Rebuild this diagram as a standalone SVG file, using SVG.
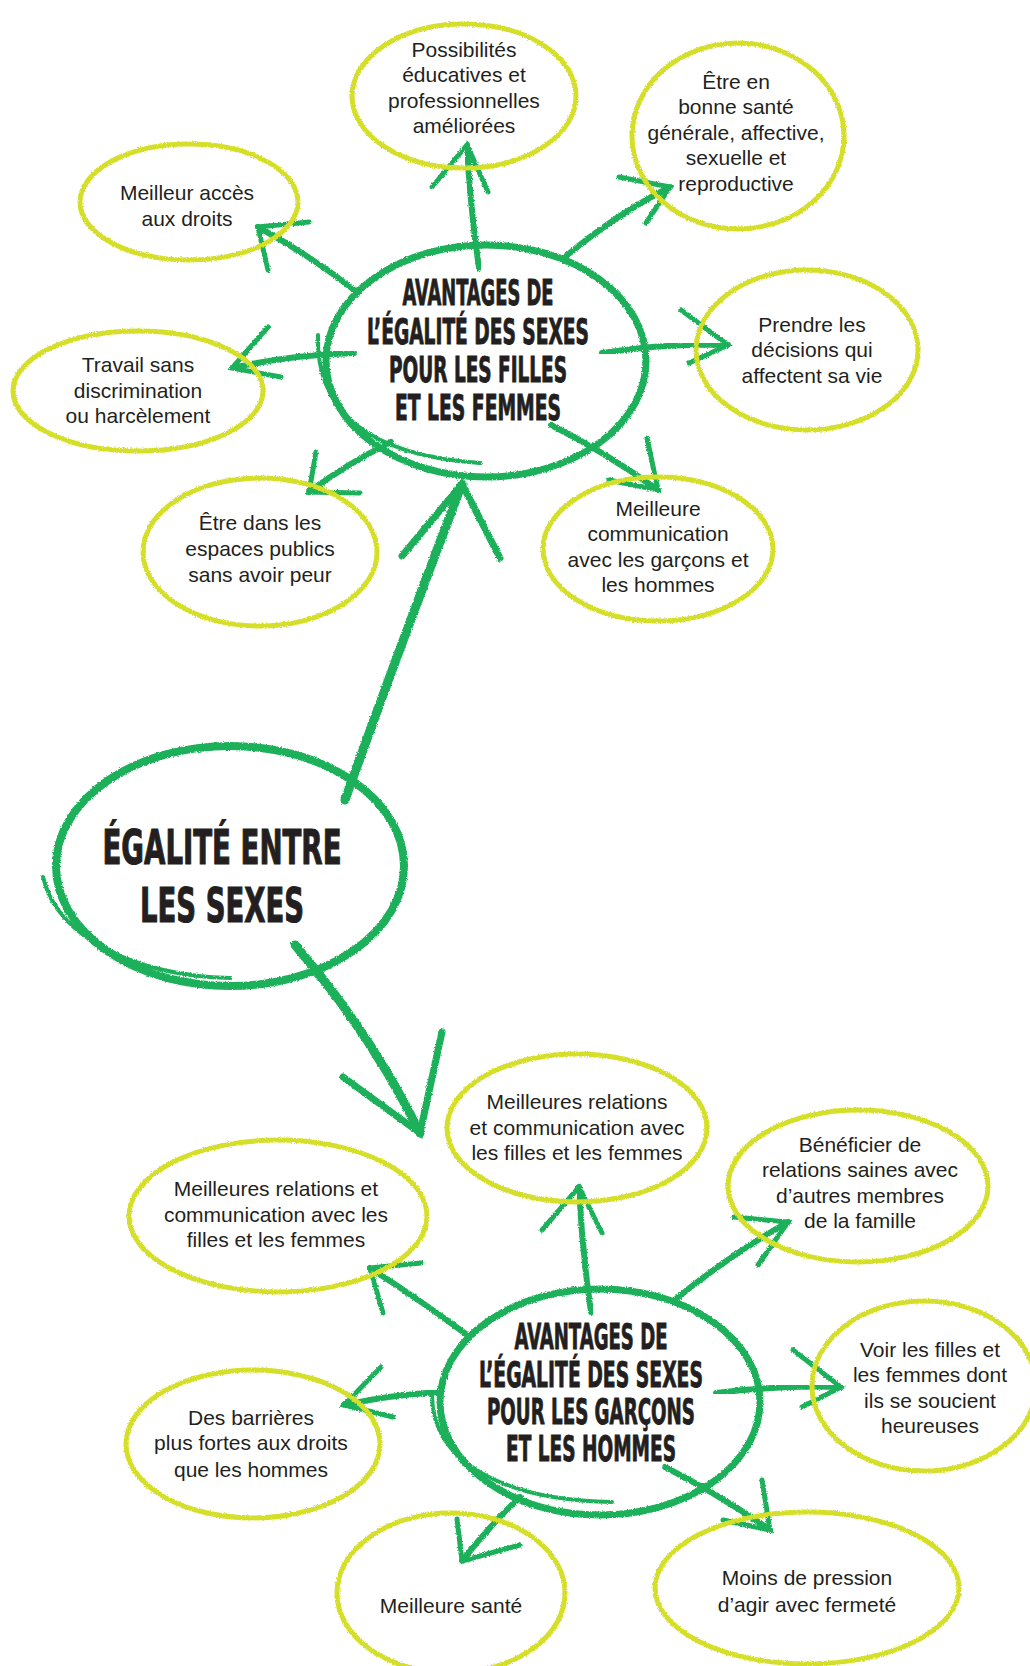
<svg xmlns="http://www.w3.org/2000/svg" width="1030" height="1666" viewBox="0 0 1030 1666">
<defs>
<filter id="rough" x="-10%" y="-10%" width="120%" height="120%">
<feTurbulence type="fractalNoise" baseFrequency="0.8" numOctaves="2" seed="3" result="n"/>
<feDisplacementMap in="SourceGraphic" in2="n" scale="3" xChannelSelector="R" yChannelSelector="G"/>
</filter>
<style>
.bg{fill:#ffffff}
.yel{fill:none;stroke:#d5df2b;stroke-width:5;filter:url(#rough)}
.hub{fill:none;stroke:#1eb05a;stroke-width:7;filter:url(#rough)}
.main{fill:none;stroke:#1eb05a;stroke-width:8;filter:url(#rough)}
.hub2{fill:none;stroke:#1eb05a;stroke-width:4;stroke-linecap:round;filter:url(#rough)}
.shaft{fill:none;stroke:#1eb05a;stroke-width:6;stroke-linecap:round;filter:url(#rough)}
.head{fill:none;stroke:#1eb05a;stroke-width:5;stroke-linecap:round;stroke-linejoin:miter;filter:url(#rough)}
.bshaft{fill:none;stroke:#1eb05a;stroke-width:9;stroke-linecap:round;filter:url(#rough)}
.bhead{fill:none;stroke:#1eb05a;stroke-width:7;stroke-linecap:round;stroke-linejoin:miter;filter:url(#rough)}
.t{font-family:"Liberation Sans",Arial,sans-serif;font-size:21px;fill:#231f20;text-anchor:middle}
.h{font-family:"Liberation Sans Narrow","DejaVu Sans Condensed","Liberation Sans",sans-serif;font-weight:bold;font-size:35px;fill:#231f20;stroke:#231f20;stroke-width:0.9;text-anchor:middle}
.hb{font-family:"Liberation Sans Narrow","DejaVu Sans Condensed","Liberation Sans",sans-serif;font-weight:bold;font-size:48px;fill:#231f20;stroke:#231f20;stroke-width:1.1;text-anchor:middle}
</style>
</defs>
<rect class="bg" x="0" y="0" width="1030" height="1666"/>

<g id="connectors">
<!-- top hub -->
<g id="c-up"><path class="shaft" d="M479,268 Q470,205 467,145"/><path class="head" d="M432,187 L467,145 L488,192"/></g>
<g id="c-upright"><path class="shaft" d="M565,257 Q615,215 670,187"/><path class="head" d="M619,177 L670,187 L646,223"/></g>
<g id="c-upleft"><path class="shaft" d="M358,293 Q310,255 258,227"/><path class="head" d="M309,222 L258,227 L268,270"/></g>
<g id="c-left"><path class="shaft" d="M354,353 Q290,355 232,368"/><path class="head" d="M268,327 L232,368 L281,377"/></g>
<g id="c-right"><path class="shaft" d="M602,353 Q665,343 728,345"/><path class="head" d="M681,310 L728,345 L689,363"/></g>
<g id="c-downleft"><path class="shaft" d="M391,442 Q345,465 309,492"/><path class="head" d="M316,452 L309,492 L360,493"/></g>
<g id="c-downright"><path class="shaft" d="M551,425 Q605,452 658,490"/><path class="head" d="M647,438 L658,490 L609,480"/></g>
<!-- main -->
<g id="c-main-up"><path class="bshaft" d="M345,800 Q395,660 462,484"/><path class="bhead" d="M402,556 L462,484 L500,558"/></g>
<g id="c-main-down"><path class="bshaft" d="M295,945 Q372,1035 420,1133"/><path class="bhead" d="M343,1077 L420,1133 L442,1032"/></g>
<!-- bottom hub -->
<g id="d-up"><path class="shaft" d="M591,1312 Q582,1250 579,1187"/><path class="head" d="M542,1230 L579,1187 L602,1233"/></g>
<g id="d-upright"><path class="shaft" d="M677,1298 Q730,1255 788,1222"/><path class="head" d="M734,1217 L788,1222 L758,1265"/></g>
<g id="d-upleft"><path class="shaft" d="M470,1337 Q420,1300 370,1268"/><path class="head" d="M421,1263 L370,1268 L383,1313"/></g>
<g id="d-left"><path class="shaft" d="M439,1392 Q390,1395 344,1405"/><path class="head" d="M381,1367 L344,1405 L393,1417"/></g>
<g id="d-right"><path class="shaft" d="M716,1393 Q780,1385 841,1387"/><path class="head" d="M793,1350 L841,1387 L802,1407"/></g>
<g id="d-downleft"><path class="shaft" d="M520,1497 Q490,1525 462,1561"/><path class="head" d="M457,1519 L462,1561 L520,1545"/></g>
<g id="d-downright"><path class="shaft" d="M665,1467 Q720,1495 770,1530"/><path class="head" d="M762,1480 L770,1530 L723,1520"/></g>
</g>

<!-- Top hub -->
<g id="hub-filles">
<ellipse class="hub" cx="486" cy="361" rx="160" ry="116"/>
<path class="hub2" d="M318,335 C316,405 360,455 480,463"/>
<text class="h" x="478" y="305" textLength="151" lengthAdjust="spacingAndGlyphs">AVANTAGES DE</text>
<text class="h" x="478" y="344" textLength="222" lengthAdjust="spacingAndGlyphs">L’ÉGALITÉ DES SEXES</text>
<text class="h" x="478" y="382" textLength="178" lengthAdjust="spacingAndGlyphs">POUR LES FILLES</text>
<text class="h" x="478" y="420" textLength="166" lengthAdjust="spacingAndGlyphs">ET LES FEMMES</text>
</g>

<g id="n-possibilites">
<ellipse class="yel" cx="464" cy="96" rx="112" ry="72"/>
<text class="t" x="464" y="57">Possibilités</text>
<text class="t" x="464" y="82">éducatives et</text>
<text class="t" x="464" y="108">professionnelles</text>
<text class="t" x="464" y="133">améliorées</text>
</g>

<g id="n-sante">
<ellipse class="yel" cx="738" cy="136" rx="106" ry="93"/>
<text class="t" x="736" y="89">Être en</text>
<text class="t" x="736" y="114">bonne santé</text>
<text class="t" x="736" y="140">générale, affective,</text>
<text class="t" x="736" y="165">sexuelle et</text>
<text class="t" x="736" y="191">reproductive</text>
</g>

<g id="n-acces">
<ellipse class="yel" cx="189" cy="202" rx="109" ry="58"/>
<text class="t" x="187" y="200">Meilleur accès</text>
<text class="t" x="187" y="226">aux droits</text>
</g>

<g id="n-travail">
<ellipse class="yel" cx="138" cy="391" rx="125" ry="60"/>
<text class="t" x="138" y="372">Travail sans</text>
<text class="t" x="138" y="398">discrimination</text>
<text class="t" x="138" y="423">ou harcèlement</text>
</g>

<g id="n-decisions">
<ellipse class="yel" cx="807" cy="350" rx="111" ry="80"/>
<text class="t" x="812" y="332">Prendre les</text>
<text class="t" x="812" y="357">décisions qui</text>
<text class="t" x="812" y="383">affectent sa vie</text>
</g>

<g id="n-espaces">
<ellipse class="yel" cx="260" cy="552" rx="117" ry="74"/>
<text class="t" x="260" y="530">Être dans les</text>
<text class="t" x="260" y="556">espaces publics</text>
<text class="t" x="260" y="582">sans avoir peur</text>
</g>

<g id="n-communication">
<ellipse class="yel" cx="658" cy="549" rx="115" ry="72"/>
<text class="t" x="658" y="516">Meilleure</text>
<text class="t" x="658" y="541">communication</text>
<text class="t" x="658" y="567">avec les garçons et</text>
<text class="t" x="658" y="592">les hommes</text>
</g>

<!-- Main -->
<g id="main">
<ellipse class="main" cx="230" cy="866" rx="174" ry="120"/>
<path class="hub2" d="M43,877 C58,940 140,976 230,978"/>
<text class="hb" x="222" y="864" textLength="239" lengthAdjust="spacingAndGlyphs">ÉGALITÉ ENTRE</text>
<text class="hb" x="222" y="922" textLength="164" lengthAdjust="spacingAndGlyphs">LES SEXES</text>
</g>

<!-- Bottom hub -->
<g id="hub-garcons">
<ellipse class="hub" cx="600" cy="1402" rx="160" ry="113"/>
<path class="hub2" d="M432,1395 C432,1460 500,1500 612,1502"/>
<text class="h" x="591" y="1349" textLength="153" lengthAdjust="spacingAndGlyphs">AVANTAGES DE</text>
<text class="h" x="591" y="1387" textLength="224" lengthAdjust="spacingAndGlyphs">L’ÉGALITÉ DES SEXES</text>
<text class="h" x="591" y="1424" textLength="208" lengthAdjust="spacingAndGlyphs">POUR LES GARÇONS</text>
<text class="h" x="591" y="1461" textLength="170" lengthAdjust="spacingAndGlyphs">ET LES HOMMES</text>
</g>

<g id="n-relations-top">
<ellipse class="yel" cx="577" cy="1128" rx="130" ry="74"/>
<text class="t" x="577" y="1109">Meilleures relations</text>
<text class="t" x="577" y="1135">et communication avec</text>
<text class="t" x="577" y="1160">les filles et les femmes</text>
</g>

<g id="n-relations-left">
<ellipse class="yel" cx="278" cy="1216" rx="149" ry="76"/>
<text class="t" x="276" y="1196">Meilleures relations et</text>
<text class="t" x="276" y="1222">communication avec les</text>
<text class="t" x="276" y="1247">filles et les femmes</text>
</g>

<g id="n-famille">
<ellipse class="yel" cx="858" cy="1186" rx="130" ry="76"/>
<text class="t" x="860" y="1152">Bénéficier de</text>
<text class="t" x="860" y="1177">relations saines avec</text>
<text class="t" x="860" y="1203">d’autres membres</text>
<text class="t" x="860" y="1228">de la famille</text>
</g>

<g id="n-heureuses">
<ellipse class="yel" cx="924" cy="1386" rx="112" ry="85"/>
<text class="t" x="930" y="1357">Voir les filles et</text>
<text class="t" x="930" y="1382">les femmes dont</text>
<text class="t" x="930" y="1408">ils se soucient</text>
<text class="t" x="930" y="1433">heureuses</text>
</g>

<g id="n-barrieres">
<ellipse class="yel" cx="253" cy="1444" rx="127" ry="74"/>
<text class="t" x="251" y="1425">Des barrières</text>
<text class="t" x="251" y="1450">plus fortes aux droits</text>
<text class="t" x="251" y="1477">que les hommes</text>
</g>

<g id="n-sante-h">
<ellipse class="yel" cx="451" cy="1593" rx="114" ry="80"/>
<text class="t" x="451" y="1613">Meilleure santé</text>
</g>

<g id="n-pression">
<ellipse class="yel" cx="807" cy="1588" rx="152" ry="76"/>
<text class="t" x="807" y="1585">Moins de pression</text>
<text class="t" x="807" y="1612">d’agir avec fermeté</text>
</g>
</svg>
